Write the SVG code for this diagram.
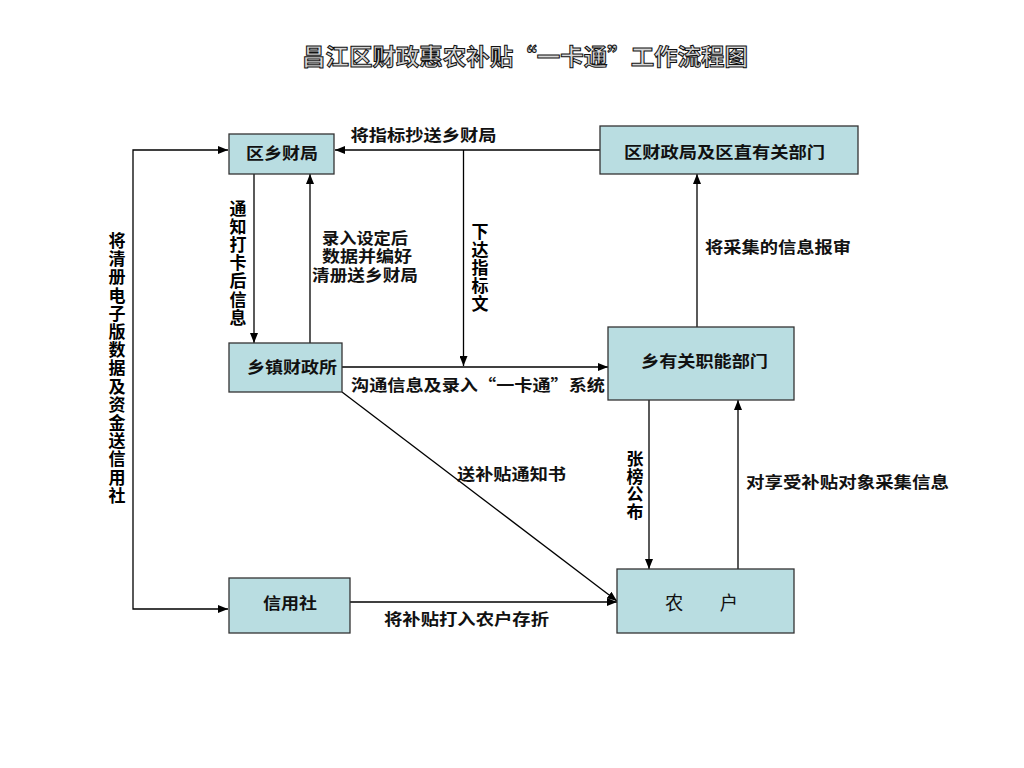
<svg xmlns="http://www.w3.org/2000/svg" width="1024" height="768" viewBox="0 0 1024 768">
<defs>
<style>
.box{fill:#b9dde1;stroke:#333;stroke-width:1.3}
.ln{fill:none;stroke:#000;stroke-width:1.3}
.bt{font-family:"Noto Sans CJK SC","Noto Sans",sans-serif;font-weight:700;fill:#111;font-size:16px;text-anchor:middle}
.v{font-family:"Noto Sans CJK SC","Noto Sans",sans-serif;font-weight:700;fill:#000;font-size:17px;text-anchor:middle}
.title{font-family:"Noto Sans CJK SC","Noto Sans",sans-serif;font-weight:700;font-size:23px;fill:#d8d8d8;stroke:#111;stroke-width:1;text-anchor:middle}
</style>
<marker id="ah" markerUnits="userSpaceOnUse" markerWidth="10" markerHeight="8" refX="10" refY="4" orient="auto-start-reverse">
<path d="M0,0 L10,4 L0,8 z" fill="#000"/>
</marker>
</defs>
<rect width="1024" height="768" fill="#fff"/>
<text class="title" x="525" y="65" textLength="446" lengthAdjust="spacingAndGlyphs">昌江区财政惠农补贴“一卡通”工作流程图</text>

<g id="connectors">
<path class="ln" d="M228,150 H133 V609 H228" marker-start="url(#ah)" marker-end="url(#ah)"/>
<path class="ln" d="M600,150 H335" marker-end="url(#ah)"/>
<path class="ln" d="M463.5,150 V366" marker-end="url(#ah)"/>
<path class="ln" d="M342,367 H608" marker-end="url(#ah)"/>
<path class="ln" d="M254,174 V343" marker-end="url(#ah)"/>
<path class="ln" d="M310,343 V174" marker-end="url(#ah)"/>
<path class="ln" d="M697,327 V174" marker-end="url(#ah)"/>
<path class="ln" d="M649,400 V569" marker-end="url(#ah)"/>
<path class="ln" d="M738,569 V400" marker-end="url(#ah)"/>
<path class="ln" d="M342,392 L617,601" marker-end="url(#ah)"/>
<path class="ln" d="M350,602 H617" marker-end="url(#ah)"/>
</g>

<g id="n-quxiangcaiju">
<rect class="box" x="229" y="134" width="105" height="40"/>
<text class="bt" x="282" y="159" textLength="72" lengthAdjust="spacingAndGlyphs">区乡财局</text>
</g>
<g id="n-qucaizhengju">
<rect class="box" x="600" y="126" width="258" height="48"/>
<text class="bt" x="724.5" y="158" textLength="201" lengthAdjust="spacingAndGlyphs">区财政局及区直有关部门</text>
</g>
<g id="n-xiangzhen">
<rect class="box" x="229" y="343" width="113" height="49"/>
<text class="bt" x="292" y="373" textLength="90" lengthAdjust="spacingAndGlyphs">乡镇财政所</text>
</g>
<g id="n-xiangbumen">
<rect class="box" x="608" y="327" width="186" height="73"/>
<text class="bt" x="704.5" y="367" textLength="127" lengthAdjust="spacingAndGlyphs">乡有关职能部门</text>
</g>
<g id="n-xinyongshe">
<rect class="box" x="229" y="578" width="121" height="55"/>
<text class="bt" x="290" y="609" textLength="54" lengthAdjust="spacingAndGlyphs">信用社</text>
</g>
<g id="n-nonghu">
<rect class="box" x="617" y="569" width="177" height="64"/>
<text class="bt" x="701.5" y="610" style="font-weight:400;font-size:19px" textLength="73" lengthAdjust="spacingAndGlyphs">农　　户</text>
</g>

<g id="labels">
<text class="bt" x="423.5" y="141" textLength="146" lengthAdjust="spacingAndGlyphs">将指标抄送乡财局</text>
<text class="bt" x="365" y="244" textLength="86" lengthAdjust="spacingAndGlyphs">录入设定后</text>
<text class="bt" x="367" y="262" textLength="90" lengthAdjust="spacingAndGlyphs">数据并编好</text>
<text class="bt" x="365" y="281" textLength="106" lengthAdjust="spacingAndGlyphs">清册送乡财局</text>
<text class="bt" x="778" y="253" textLength="146" lengthAdjust="spacingAndGlyphs">将采集的信息报审</text>
<text class="bt" x="478" y="391" textLength="254" lengthAdjust="spacingAndGlyphs">沟通信息及录入“一卡通”系统</text>
<text class="bt" x="511.5" y="480" textLength="109" lengthAdjust="spacingAndGlyphs">送补贴通知书</text>
<text class="bt" x="847.5" y="488" textLength="203" lengthAdjust="spacingAndGlyphs">对享受补贴对象采集信息</text>
<text class="bt" x="466.5" y="625" textLength="165" lengthAdjust="spacingAndGlyphs">将补贴打入农户存折</text>

<text class="v"><tspan x="117" y="247">将</tspan><tspan x="117" y="265.2">清</tspan><tspan x="117" y="283.4">册</tspan><tspan x="117" y="301.6">电</tspan><tspan x="117" y="319.8">子</tspan><tspan x="117" y="338">版</tspan><tspan x="117" y="356.2">数</tspan><tspan x="117" y="374.4">据</tspan><tspan x="117" y="392.6">及</tspan><tspan x="117" y="410.8">资</tspan><tspan x="117" y="429">金</tspan><tspan x="117" y="447.2">送</tspan><tspan x="117" y="465.4">信</tspan><tspan x="117" y="483.6">用</tspan><tspan x="117" y="501.8">社</tspan></text>

<text class="v"><tspan x="238" y="215">通</tspan><tspan x="238" y="233.1">知</tspan><tspan x="238" y="251.2">打</tspan><tspan x="238" y="269.3">卡</tspan><tspan x="238" y="287.4">后</tspan><tspan x="238" y="305.5">信</tspan><tspan x="238" y="323.6">息</tspan></text>

<text class="v"><tspan x="480" y="238">下</tspan><tspan x="480" y="256">达</tspan><tspan x="480" y="274">指</tspan><tspan x="480" y="292">标</tspan><tspan x="480" y="310">文</tspan></text>

<text class="v"><tspan x="635" y="465">张</tspan><tspan x="635" y="482.5">榜</tspan><tspan x="635" y="500">公</tspan><tspan x="635" y="517.5">布</tspan></text>
</g>
</svg>
